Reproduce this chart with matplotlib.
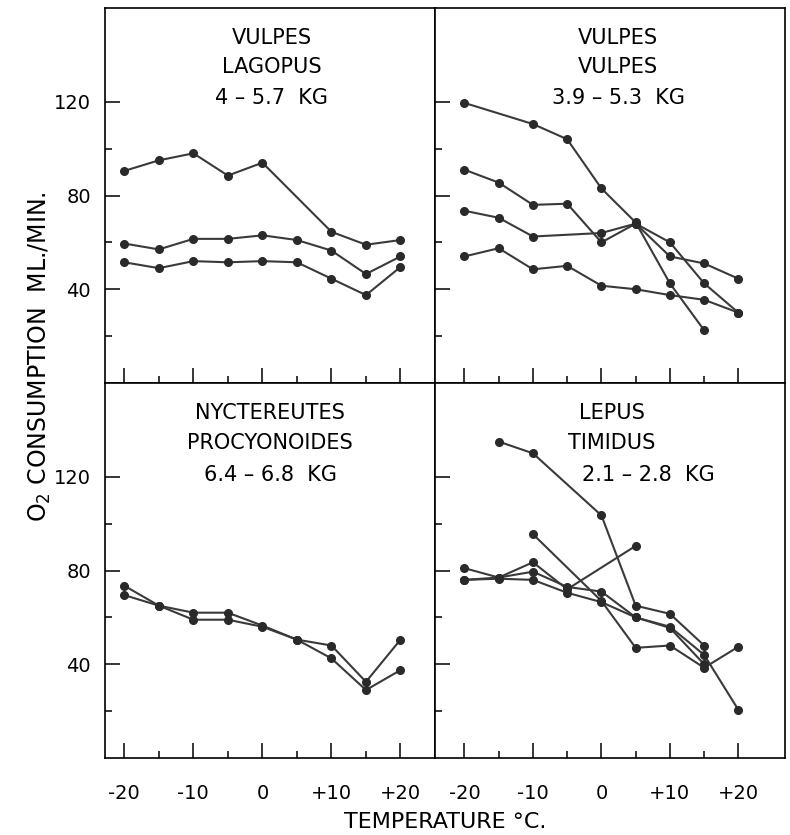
import matplotlib
matplotlib.use("Agg")
import matplotlib.pyplot as plt
from matplotlib.ticker import FixedLocator

plt.rcParams['font.family'] = ['DejaVu Sans']

# temperature (deg C) and O2 consumption (ml/min), one list per animal
temps_all = [-20, -15, -10, -5, 0, 5, 10, 15, 20]

lagopus_t = [[-20, -15, -10, -5, 0, 10, 15, 20], temps_all, temps_all]
lagopus_v = [[90.5, 95, 98, 88.5, 94, 64.5, 59, 61],
             [59.5, 57, 61.5, 61.5, 63, 61, 56.5, 46.5, 54],
             [51.5, 49, 52, 51.5, 52, 51.5, 44.5, 37.5, 49.5]]

vulpes_t = [[-20, -10, -5, 0, 5, 10, 15],
            temps_all,
            [-20, -15, -10, 0, 5, 10, 15, 20],
            temps_all]
vulpes_v = [[119.5, 110.5, 104, 83, 68.5, 42.5, 22.5],
            [91, 85.5, 76, 76.5, 60, 68, 60, 42.5, 30],
            [73.5, 70.5, 62.5, 64, 68, 54, 51, 44.5],
            [54, 57.5, 48.5, 50, 41.5, 40, 37.5, 35.5, 30]]

nyct_t = [temps_all, temps_all]
nyct_v = [[73.5, 65, 62, 62, 56.5, 50.5, 48, 32.5, 50.5],
          [69.5, 65, 59, 59, 56, 50.5, 42.5, 29, 37.5]]

lepus_t = [[-15, -10, 0, 5, 10, 15],
           [-10, 0, 5, 10, 15, 20],
           [-20, -15, -10, -5, 5],
           temps_all,
           [-20, -15, -10, -5, 0, 5, 10, 15]]
lepus_v = [[135, 130, 103.5, 65, 61.5, 48],
           [95.5, 67, 47, 48, 38.5, 47.5],
           [81, 77, 83.5, 72, 90.5],
           [76, 77, 79.5, 73, 71, 60, 56, 44, 20.5],
           [76, 76.5, 76, 70.5, 66.5, 60, 55.5, 40]]

xtick_vals = [-20, -10, 0, 10, 20]
xtick_labels = ['-20', '-10', '0', '+10', '+20']
ytick_vals = [40, 80, 120]

W, H = 790, 835
fig = plt.figure(figsize=(W / 100, H / 100), dpi=100)


def px_axes(x0, x1, ytop, ybot):
    return fig.add_axes([x0 / W, 1 - ybot / H, (x1 - x0) / W, (ybot - ytop) / H])


def panel(ax, ts, vs, xlim, titles, left_labels, bottom_labels):
    for t, v in zip(ts, vs):
        ax.plot(t, v, color='#3a3a3a', lw=1.5, marker='o', ms=5.5,
                mfc='#2a2a2a', mec='#2a2a2a')
    ax.set_xlim(*xlim)
    ax.set_ylim(0, 160)
    ax.xaxis.set_major_locator(FixedLocator(xtick_vals))
    ax.xaxis.set_minor_locator(FixedLocator([-15, -5, 5, 15]))
    ax.yaxis.set_major_locator(FixedLocator(ytick_vals))
    ax.yaxis.set_minor_locator(FixedLocator([20, 60, 100]))
    ax.tick_params(axis='both', which='major', direction='in', length=11,
                   width=1.1, labelsize=14, color='black')
    ax.tick_params(axis='both', which='minor', direction='in', length=5,
                   width=1.1, color='black')
    ax.tick_params(axis='x', which='major', pad=19)
    ax.tick_params(axis='y', which='major', pad=10)
    if bottom_labels:
        ax.set_xticklabels(xtick_labels)
    else:
        ax.set_xticklabels([])
    if left_labels:
        ax.set_yticklabels([str(v) for v in ytick_vals])
    else:
        ax.set_yticklabels([])
    for s in ax.spines.values():
        s.set_linewidth(1.2)
        s.set_color('black')
    for txt, x, y in titles:
        ax.text(x, y, txt, transform=ax.transAxes, ha='center', va='center',
                fontsize=15)


ax1 = px_axes(105, 435, 8, 383)
ax2 = px_axes(435, 785, 8, 383)
ax3 = px_axes(105, 435, 383, 758)
ax4 = px_axes(435, 785, 383, 758)

left_xlim = (-22.8, 25)
right_xlim = (-24.3, 26.8)

panel(ax1, lagopus_t, lagopus_v, left_xlim,
      [('VULPES', 0.506, 0.92), ('LAGOPUS', 0.506, 0.843), ('4 – 5.7  KG', 0.506, 0.76)],
      True, False)
panel(ax2, vulpes_t, vulpes_v, right_xlim,
      [('VULPES', 0.523, 0.92), ('VULPES', 0.523, 0.843), ('3.9 – 5.3  KG', 0.523, 0.76)],
      False, False)
panel(ax3, nyct_t, nyct_v, left_xlim,
      [('NYCTEREUTES', 0.5, 0.92), ('PROCYONOIDES', 0.5, 0.84), ('6.4 – 6.8  KG', 0.5, 0.755)],
      True, True)
panel(ax4, lepus_t, lepus_v, right_xlim,
      [('LEPUS', 0.506, 0.92), ('TIMIDUS', 0.506, 0.84), ('2.1 – 2.8  KG', 0.611, 0.755)],
      False, True)

fig.text(445 / W, 1 - 822 / H, 'TEMPERATURE °C.', ha='center', va='center', fontsize=16)
fig.text(40 / W, 1 - 357 / H, 'O$_2$ CONSUMPTION  ML./MIN.', ha='center', va='center',
         rotation=90, fontsize=17)

fig.savefig('out.png', dpi=100)
